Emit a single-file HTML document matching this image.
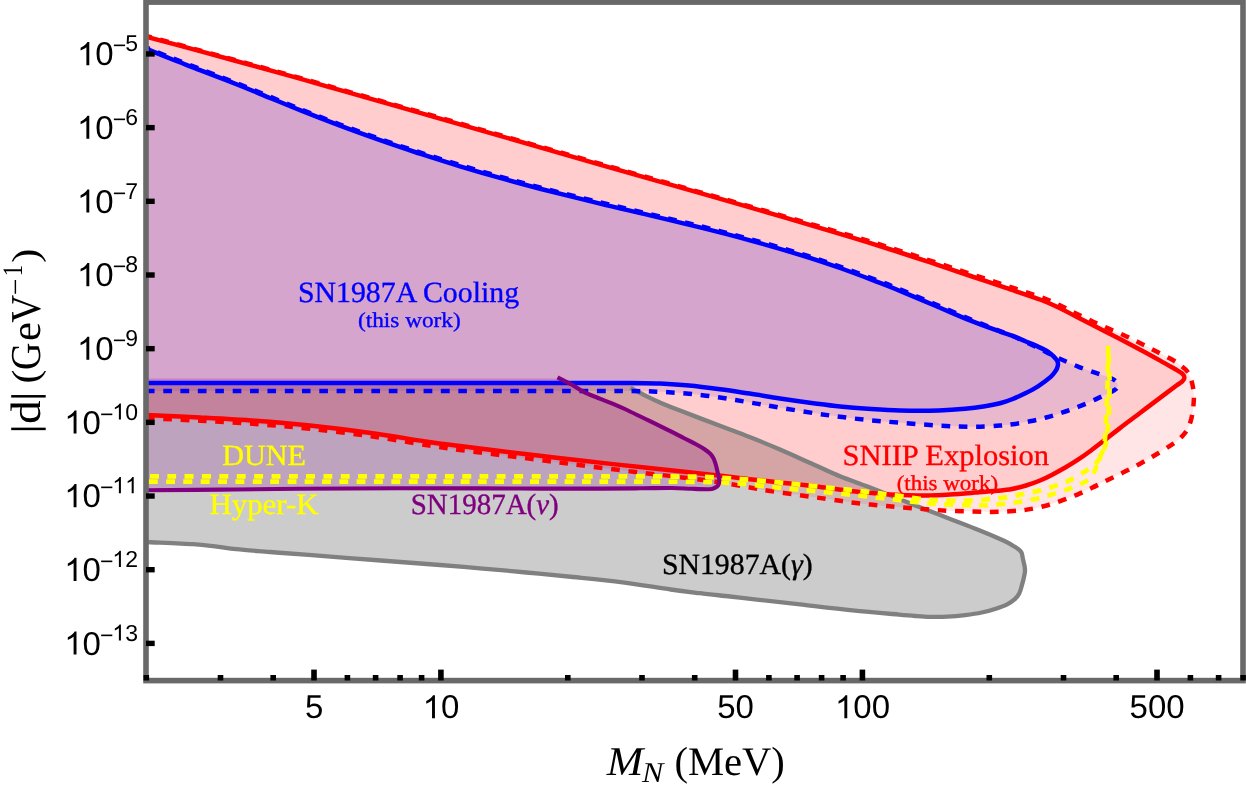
<!DOCTYPE html><html><head><meta charset="utf-8"><title>plot</title><style>html,body{margin:0;padding:0;background:#fff}body{width:1246px;height:789px;overflow:hidden}svg{display:block}text{white-space:pre}.ss{font-family:"Liberation Sans",sans-serif}.sf{font-family:"Liberation Serif",serif}</style></head><body>
<svg width="1246" height="789" viewBox="0 0 1246 789" style="will-change:transform" text-rendering="geometricPrecision">
<rect width="1246" height="789" fill="#fff"/>
<defs><clipPath id="cp"><rect x="146" y="2.5" width="1097" height="678"/></clipPath></defs>
<g clip-path="url(#cp)">
<path d="M146.0 383.0 C225.0 383.0 539.3 382.2 620.0 383.0 C700.7 383.8 625.7 385.2 630.4 387.6 C635.1 390.0 643.5 394.7 648.4 397.2 C653.3 399.7 654.7 400.3 660.0 402.5 C665.3 404.7 670.0 406.7 680.0 410.6 C690.0 414.5 708.4 421.4 720.0 425.8 C731.6 430.2 739.6 433.1 749.6 437.0 C759.6 440.9 768.8 444.7 780.0 449.5 C791.2 454.3 807.0 461.6 817.0 466.0 C827.0 470.4 831.6 472.8 840.0 476.2 C848.4 479.6 857.6 482.8 867.6 486.6 C877.6 490.5 890.4 495.5 900.0 499.3 C909.6 503.1 916.2 505.8 925.0 509.2 C933.8 512.6 943.9 516.5 952.7 519.9 C961.5 523.3 969.5 526.3 978.0 529.7 C986.5 533.1 997.5 537.8 1003.4 540.5 C1009.3 543.2 1010.9 544.5 1013.5 546.0 C1016.1 547.5 1017.8 548.6 1019.2 549.8 C1020.6 551.0 1021.1 551.4 1021.7 553.0 C1022.3 554.6 1022.5 557.0 1023.0 559.3 C1023.5 561.6 1024.4 564.8 1024.7 566.9 C1025.0 569.0 1025.1 570.1 1024.9 572.0 C1024.7 573.9 1024.2 576.0 1023.7 578.3 C1023.2 580.6 1022.5 583.4 1021.7 585.9 C1021.0 588.4 1020.4 591.3 1019.2 593.5 C1018.1 595.7 1016.8 597.4 1014.8 599.2 C1012.8 601.0 1010.4 602.7 1007.2 604.3 C1004.0 605.9 1000.0 607.3 995.8 608.7 C991.6 610.1 986.9 611.4 981.8 612.5 C976.7 613.6 971.0 614.4 965.3 615.1 C959.6 615.8 953.5 616.4 947.6 616.7 C941.7 617.0 935.4 617.0 930.0 616.9 C924.6 616.8 920.2 616.4 915.0 616.0 C909.8 615.6 909.4 615.5 899.0 614.6 C888.6 613.7 868.9 612.1 852.4 610.4 C835.9 608.7 815.6 606.2 800.0 604.4 C784.4 602.6 770.7 601.1 759.0 599.8 C747.3 598.5 739.8 597.6 730.0 596.5 C720.2 595.4 709.9 594.4 700.0 593.2 C690.1 592.0 683.7 591.3 670.8 589.5 C657.9 587.7 638.9 584.4 622.6 582.3 C606.3 580.2 589.0 578.6 573.0 577.0 C557.0 575.4 541.8 574.0 526.3 572.5 C510.8 571.0 494.4 569.5 480.0 568.3 C465.6 567.0 456.5 566.3 440.0 565.0 C423.5 563.7 402.7 562.2 380.8 560.5 C358.9 558.8 327.1 556.3 308.6 554.9 C290.1 553.5 282.1 553.0 270.0 552.0 C257.9 551.0 245.5 550.2 236.3 549.2 C227.1 548.2 222.2 547.1 215.0 546.3 C207.8 545.5 204.5 544.9 193.0 544.2 C181.5 543.5 153.8 542.4 146.0 542.0Z" fill="#808080" fill-opacity="0.4"/>
<path d="M146.0 48.7 C150.0 50.3 161.0 54.9 170.0 58.5 C179.0 62.1 190.0 66.2 200.0 70.1 C210.0 74.0 220.0 77.8 230.0 81.7 C240.0 85.7 248.3 89.0 260.0 93.8 C271.7 98.5 286.7 104.9 300.0 110.2 C313.3 115.5 326.7 120.7 340.0 125.7 C353.3 130.7 366.7 135.5 380.0 140.2 C393.3 144.9 406.7 149.3 420.0 153.7 C433.3 158.0 446.7 162.3 460.0 166.3 C473.3 170.3 486.7 174.2 500.0 177.9 C513.3 181.6 523.3 184.4 540.0 188.7 C556.7 193.0 581.7 199.1 600.0 203.6 C618.3 208.1 633.3 211.4 650.0 215.4 C666.7 219.4 683.5 223.3 700.0 227.4 C716.5 231.5 732.3 235.5 749.0 240.1 C765.7 244.7 784.8 250.2 800.0 254.8 C815.2 259.4 826.7 263.3 840.0 268.0 C853.3 272.7 870.0 279.1 880.0 282.9 C890.0 286.7 890.8 287.1 900.0 290.9 C909.2 294.7 923.5 300.7 935.3 305.7 C947.1 310.7 959.8 316.4 970.6 320.7 C981.4 325.0 993.0 329.1 1000.0 331.6 C1007.0 334.1 1008.5 334.3 1012.7 335.9 C1016.9 337.5 1021.1 339.4 1025.3 341.2 C1029.5 343.0 1034.2 344.8 1038.0 346.6 C1041.8 348.4 1045.5 350.0 1048.2 351.8 C1051.0 353.6 1053.0 355.8 1054.5 357.3 C1056.0 358.8 1056.7 359.8 1057.3 361.0 C1057.9 362.2 1058.0 363.3 1058.0 364.4 C1058.0 365.5 1057.6 366.7 1057.2 367.8 C1056.8 368.9 1056.6 369.5 1055.5 371.0 C1054.4 372.5 1053.6 374.3 1050.7 376.9 C1047.8 379.4 1042.2 383.6 1038.0 386.3 C1033.8 389.0 1029.5 391.2 1025.3 393.3 C1021.1 395.4 1016.9 397.3 1012.7 399.0 C1008.5 400.7 1004.6 402.1 1000.0 403.3 C995.4 404.5 990.8 405.4 985.0 406.3 C979.2 407.2 972.7 408.1 965.0 408.8 C957.3 409.5 949.6 410.1 938.8 410.4 C928.0 410.7 911.9 410.7 900.0 410.4 C888.1 410.1 877.6 409.4 867.6 408.8 C857.6 408.2 848.4 407.4 840.0 406.5 C831.6 405.6 827.0 405.0 817.0 403.7 C807.0 402.4 791.2 400.2 780.0 398.5 C768.8 396.8 759.6 395.1 749.6 393.6 C739.6 392.1 730.1 390.6 720.0 389.3 C709.9 388.0 699.0 386.6 689.0 385.6 C679.0 384.7 669.5 384.1 660.0 383.6 C650.5 383.2 648.4 383.0 631.7 382.9 C615.0 382.8 585.3 383.0 560.0 383.0 C534.7 383.0 523.3 383.0 480.0 383.0 C436.7 383.0 355.7 383.0 300.0 383.0 C244.3 383.0 171.7 383.0 146.0 383.0Z" fill="#0000ff" fill-opacity="0.1"/>
<path d="M146.0 47.5 C150.0 49.1 161.0 53.7 170.0 57.3 C179.0 60.9 190.0 65.0 200.0 68.9 C210.0 72.8 220.0 76.5 230.0 80.5 C240.0 84.5 248.3 87.8 260.0 92.6 C271.7 97.3 286.7 103.7 300.0 109.0 C313.3 114.3 326.7 119.5 340.0 124.5 C353.3 129.5 366.7 134.3 380.0 139.0 C393.3 143.7 406.7 148.2 420.0 152.5 C433.3 156.8 446.7 161.0 460.0 165.0 C473.3 169.0 486.7 172.9 500.0 176.7 C513.3 180.4 523.3 183.2 540.0 187.5 C556.7 191.8 581.7 197.9 600.0 202.3 C618.3 206.7 633.3 210.1 650.0 214.1 C666.7 218.1 683.5 222.0 700.0 226.1 C716.5 230.2 732.3 234.2 749.0 238.8 C765.7 243.4 784.8 248.8 800.0 253.5 C815.2 258.1 826.7 262.1 840.0 266.7 C853.3 271.3 870.0 277.6 880.0 281.4 C890.0 285.2 890.8 285.6 900.0 289.4 C909.2 293.2 923.5 299.3 935.3 304.3 C947.1 309.3 959.8 314.9 970.6 319.4 C981.4 323.9 993.0 328.3 1000.0 331.1 C1007.0 333.9 1008.5 334.2 1012.7 336.0 C1016.9 337.8 1021.1 339.8 1025.3 341.8 C1029.5 343.8 1033.9 345.8 1038.0 347.8 C1042.1 349.8 1046.0 352.0 1050.0 354.0 C1054.0 356.0 1057.3 357.7 1062.1 359.8 C1066.9 361.9 1073.1 364.7 1078.6 366.8 C1084.1 368.9 1090.2 370.9 1095.1 372.6 C1100.0 374.3 1104.9 375.8 1108.0 377.0 C1111.1 378.2 1112.3 378.7 1113.8 379.6 C1115.3 380.5 1116.4 381.6 1117.0 382.5 C1117.6 383.4 1117.6 384.3 1117.6 385.2 C1117.6 386.1 1117.4 387.1 1116.8 388.0 C1116.2 388.9 1115.3 389.6 1113.8 390.5 C1112.3 391.4 1111.1 392.0 1108.0 393.5 C1104.9 395.0 1100.0 397.4 1095.1 399.6 C1090.2 401.8 1084.0 404.6 1078.6 406.7 C1073.2 408.8 1068.1 410.6 1062.7 412.4 C1057.3 414.2 1051.8 416.0 1046.3 417.5 C1040.8 419.0 1035.4 420.2 1029.8 421.3 C1024.2 422.4 1017.7 423.6 1012.7 424.3 C1007.7 425.0 1004.6 425.2 1000.0 425.6 C995.4 426.0 990.3 426.3 985.0 426.5 C979.7 426.7 975.8 426.8 968.0 426.7 C960.2 426.6 949.3 426.3 938.0 425.6 C926.7 424.9 911.7 423.6 900.0 422.7 C888.3 421.8 877.6 421.0 867.6 420.0 C857.6 419.0 848.4 417.9 840.0 416.8 C831.6 415.7 827.0 415.1 817.0 413.6 C807.0 412.1 791.2 409.6 780.0 407.7 C768.8 405.8 759.6 404.1 749.6 402.4 C739.6 400.7 730.1 398.9 720.0 397.5 C709.9 396.1 699.0 394.8 689.0 393.8 C679.0 392.9 669.5 392.2 660.0 391.8 C650.5 391.4 648.4 391.2 631.7 391.1 C615.0 391.0 585.3 391.0 560.0 391.0 C534.7 391.0 523.3 391.0 480.0 391.0 C436.7 391.0 355.7 391.0 300.0 391.0 C244.3 391.0 171.7 391.0 146.0 391.0Z" fill="#0000ff" fill-opacity="0.1"/>
<path d="M146.0 36.6 C155.0 39.0 182.7 46.4 200.0 51.1 C217.3 55.8 233.3 60.2 250.0 64.8 C266.7 69.4 283.3 74.0 300.0 78.7 C316.7 83.4 333.3 88.2 350.0 92.9 C366.7 97.6 381.7 101.9 400.0 107.1 C418.3 112.3 436.7 117.6 460.0 124.3 C483.3 131.0 508.3 138.3 540.0 147.4 C571.7 156.5 615.2 169.0 650.0 178.9 C684.8 188.8 715.7 197.4 749.0 207.1 C782.3 216.8 824.8 229.3 850.0 236.9 C875.2 244.5 885.8 248.0 900.0 252.5 C914.2 257.0 923.5 260.2 935.3 264.1 C947.1 268.0 958.8 272.0 970.6 276.0 C982.4 280.0 994.1 283.9 1005.9 287.9 C1017.7 291.9 1032.2 296.6 1041.2 300.0 C1050.2 303.4 1054.1 305.5 1060.0 308.3 C1065.9 311.1 1069.1 313.0 1076.5 316.8 C1083.9 320.6 1097.0 327.3 1104.2 331.0 C1111.5 334.7 1114.0 336.0 1120.0 339.1 C1126.0 342.2 1133.5 346.2 1140.3 349.8 C1147.1 353.4 1154.5 357.5 1160.6 360.9 C1166.7 364.3 1174.1 368.6 1176.8 370.1C1177.7 370.7 1181.0 372.3 1182.3 373.6 C1183.6 374.9 1184.4 376.4 1184.4 377.7 C1184.4 379.0 1183.6 380.1 1182.3 381.4 C1181.0 382.7 1177.7 384.6 1176.8 385.3C1174.0 387.4 1166.1 393.3 1160.0 397.9 C1153.9 402.5 1147.0 407.7 1140.3 412.7 C1133.6 417.7 1126.2 423.4 1120.0 428.1 C1113.8 432.8 1108.3 437.2 1103.4 441.0 C1098.5 444.8 1094.9 447.6 1090.7 450.7 C1086.5 453.8 1082.2 456.9 1078.0 459.7 C1073.8 462.5 1069.5 465.1 1065.3 467.5 C1061.1 469.9 1056.9 472.2 1052.7 474.4 C1048.5 476.6 1044.5 478.6 1040.0 480.5 C1035.5 482.4 1030.7 484.1 1026.0 485.5 C1021.3 486.9 1016.8 488.1 1012.0 489.0 C1007.2 489.9 1003.7 490.2 997.5 490.8 C991.3 491.4 982.9 492.0 975.0 492.6 C967.1 493.2 958.3 493.9 950.0 494.4 C941.7 494.9 933.3 495.3 925.0 495.4 C916.7 495.5 907.5 495.4 900.0 495.1 C892.5 494.8 888.3 494.5 880.0 493.8 C871.7 493.1 860.5 492.2 850.0 491.0 C839.5 489.8 828.7 487.9 817.0 486.5 C805.3 485.1 791.2 483.7 780.0 482.5 C768.8 481.3 760.1 480.4 749.6 479.2 C739.1 478.0 728.2 476.6 717.0 475.3 C705.8 474.0 695.0 472.9 682.2 471.5 C669.4 470.1 656.9 468.8 640.0 467.0 C623.1 465.2 597.7 462.5 581.0 460.6 C564.3 458.7 553.5 457.4 540.0 455.8 C526.5 454.2 513.3 452.6 500.0 451.0 C486.7 449.4 471.8 447.5 460.0 446.0 C448.2 444.5 443.8 444.2 429.0 442.0 C414.2 439.8 390.8 435.8 371.0 433.0 C351.2 430.2 329.2 427.5 310.0 425.5 C290.8 423.5 273.9 422.1 255.6 420.8 C237.3 419.5 218.3 418.5 200.0 417.5 C181.7 416.5 155.0 415.4 146.0 415.0Z" fill="#ff0000" fill-opacity="0.1"/>
<path d="M146.0 36.0 C155.0 38.4 182.7 45.8 200.0 50.5 C217.3 55.2 233.3 59.5 250.0 64.1 C266.7 68.7 283.3 73.3 300.0 78.0 C316.7 82.7 333.3 87.5 350.0 92.2 C366.7 96.9 381.7 101.2 400.0 106.4 C418.3 111.6 436.7 116.8 460.0 123.5 C483.3 130.2 508.3 137.5 540.0 146.6 C571.7 155.7 615.2 168.1 650.0 178.0 C684.8 187.9 715.7 196.6 749.0 206.2 C782.3 215.8 824.8 228.1 850.0 235.5 C875.2 242.9 885.8 246.4 900.0 250.9 C914.2 255.4 923.5 258.5 935.3 262.3 C947.1 266.1 958.8 270.0 970.6 273.9 C982.4 277.8 994.1 281.6 1005.9 285.5 C1017.7 289.4 1032.2 294.0 1041.2 297.3 C1050.2 300.6 1054.1 302.6 1060.0 305.4 C1065.9 308.1 1069.1 310.2 1076.5 313.8 C1083.9 317.4 1095.8 322.9 1104.2 326.7 C1112.6 330.5 1120.7 333.7 1127.1 336.7 C1133.5 339.7 1137.6 341.9 1142.8 344.5 C1148.0 347.1 1152.9 349.6 1158.0 352.3 C1163.1 355.0 1169.6 358.1 1173.6 360.5 C1177.6 362.9 1179.7 364.7 1182.0 366.5 C1184.3 368.3 1185.7 369.3 1187.2 371.3 C1188.7 373.3 1189.8 375.8 1190.8 378.5 C1191.8 381.2 1192.5 384.4 1193.0 387.3 C1193.5 390.2 1193.8 393.1 1193.9 396.0 C1194.0 398.9 1193.7 401.8 1193.5 404.6 C1193.3 407.4 1193.0 410.1 1192.5 413.0 C1192.0 415.9 1191.4 419.1 1190.5 421.8 C1189.6 424.6 1188.6 427.1 1187.3 429.5 C1186.0 431.9 1184.2 434.0 1182.4 436.0 C1180.6 438.0 1178.5 439.8 1176.2 441.6 C1173.9 443.4 1172.4 444.2 1168.7 446.6 C1165.0 449.0 1159.0 452.8 1154.0 455.8 C1149.0 458.8 1144.0 461.6 1138.8 464.4 C1133.6 467.2 1128.3 470.0 1123.0 472.6 C1117.7 475.2 1112.4 477.7 1107.2 480.2 C1102.0 482.7 1097.1 485.4 1092.0 487.8 C1086.9 490.2 1082.1 492.6 1076.8 494.8 C1071.5 497.0 1065.8 499.2 1060.3 501.1 C1054.8 503.0 1049.4 504.8 1043.8 506.2 C1038.2 507.6 1032.5 508.8 1026.9 509.6 C1021.3 510.5 1016.1 510.9 1010.0 511.3 C1003.9 511.7 999.4 511.9 990.0 511.9 C980.6 511.8 964.2 511.4 953.4 511.0 C942.6 510.6 933.9 509.8 925.0 509.2 C916.1 508.6 907.5 507.8 900.0 507.2 C892.5 506.6 886.7 506.0 880.0 505.4 C873.3 504.8 866.7 504.3 860.0 503.5 C853.3 502.7 847.2 501.8 840.0 500.8 C832.8 499.8 823.7 498.5 817.0 497.6 C810.3 496.7 808.1 496.4 800.0 495.2 C791.9 494.0 776.8 492.0 768.4 490.7 C760.0 489.4 758.2 489.0 749.6 487.5 C741.0 486.0 728.2 483.6 717.0 481.9 C705.8 480.2 695.0 479.0 682.2 477.4 C669.4 475.8 656.9 474.5 640.0 472.5 C623.1 470.5 597.7 467.4 581.0 465.3 C564.3 463.2 553.5 461.7 540.0 460.0 C526.5 458.3 513.3 456.7 500.0 455.0 C486.7 453.3 471.8 451.6 460.0 450.0 C448.2 448.4 443.8 447.8 429.0 445.5 C414.2 443.2 390.8 439.1 371.0 436.3 C351.2 433.5 329.2 430.9 310.0 428.8 C290.8 426.8 273.9 425.4 255.6 424.0 C237.3 422.6 218.3 421.7 200.0 420.7 C181.7 419.7 155.0 418.6 146.0 418.2Z" fill="#ff0000" fill-opacity="0.1"/>
<path d="M146 378.4L557.5 378.4L557.5 377.4 C559.8 378.6 566.9 382.1 571.4 384.5 C575.9 386.9 579.9 389.9 584.2 392.1 C588.5 394.3 592.7 395.8 597.0 397.5 C601.3 399.2 604.7 400.4 609.9 402.6 C615.1 404.8 621.6 407.5 628.0 410.5 C634.4 413.5 641.8 417.2 648.4 420.4 C655.0 423.6 661.8 426.9 667.7 429.8 C673.6 432.7 679.0 435.6 683.7 438.0 C688.4 440.4 692.6 442.4 696.0 444.2 C699.4 446.0 701.9 447.4 704.2 449.0 C706.5 450.6 708.5 452.1 710.0 453.5 C711.5 454.9 712.3 456.1 713.2 457.7 C714.1 459.3 714.7 461.0 715.3 463.0 C715.9 465.0 716.5 467.3 717.0 469.5 C717.5 471.7 718.1 474.1 718.5 476.0 C718.9 477.9 719.4 479.4 719.3 481.0 C719.2 482.6 718.8 484.3 718.0 485.5 C717.2 486.7 716.0 487.4 714.5 488.0 C713.0 488.6 712.9 489.1 709.0 489.2 C705.1 489.3 697.5 489.0 691.4 488.8 C685.2 488.6 680.7 488.1 672.1 488.0 C663.5 487.9 652.0 488.2 640.0 488.3 C628.0 488.4 616.7 488.6 600.0 488.6 C583.3 488.7 560.0 488.6 540.0 488.6 C520.0 488.6 503.3 488.4 480.0 488.4 C456.7 488.3 430.0 488.2 400.0 488.3 C370.0 488.4 330.0 488.6 300.0 488.8 C270.0 489.0 245.7 489.4 220.0 489.6 C194.3 489.9 158.3 490.2 146.0 490.3 Z" fill="#800080" fill-opacity="0.2"/>
</g>
<text transform="translate(297.90,302.30) scale(1.0176,1.0000)" font-size="29.30" fill="#0000ff" stroke="#0000ff" stroke-width="0.35" class="sf">SN1987A Cooling</text>
<text transform="translate(358.00,326.80) scale(1.0974,1.0000)" font-size="21.20" fill="#0000ff" stroke="#0000ff" stroke-width="0.35" class="sf">(this work)</text>
<text transform="translate(842.50,464.80) scale(1.0413,1.0000)" font-size="29.30" fill="#ff0000" stroke="#ff0000" stroke-width="0.35" class="sf">SNIIP Explosion</text>
<text transform="translate(896.70,489.50) scale(1.0838,1.0000)" font-size="21.20" fill="#ff0000" stroke="#ff0000" stroke-width="0.35" class="sf">(this work)</text>
<text transform="translate(222.20,465.30) scale(1.0296,1.0000)" font-size="29.30" fill="#ffff00" stroke="#ffff00" stroke-width="0.35" class="sf">DUNE</text>
<text transform="translate(209.40,513.50) scale(1.0545,1.0000)" font-size="29.30" fill="#ffff00" stroke="#ffff00" stroke-width="0.35" class="sf">Hyper-K</text>
<text transform="translate(410.70,513.50) scale(0.9884,1.0000)" font-size="29.30" fill="#800080" stroke="#800080" stroke-width="0.35" class="sf">SN1987A(<tspan font-style="italic">ν</tspan>)</text>
<text transform="translate(661.90,574.10) scale(1.0167,1.0000)" font-size="29.30" fill="#000" stroke="#000" stroke-width="0.35" class="sf">SN1987A(<tspan font-style="italic">γ</tspan>)</text>
<g clip-path="url(#cp)" fill="none" stroke-linejoin="round">
<path d="M630.4 387.6 C633.4 389.2 643.5 394.7 648.4 397.2 C653.3 399.7 654.7 400.3 660.0 402.5 C665.3 404.7 670.0 406.7 680.0 410.6 C690.0 414.5 708.4 421.4 720.0 425.8 C731.6 430.2 739.6 433.1 749.6 437.0 C759.6 440.9 768.8 444.7 780.0 449.5 C791.2 454.3 807.0 461.6 817.0 466.0 C827.0 470.4 831.6 472.8 840.0 476.2 C848.4 479.6 857.6 482.8 867.6 486.6 C877.6 490.5 890.4 495.5 900.0 499.3 C909.6 503.1 916.2 505.8 925.0 509.2 C933.8 512.6 943.9 516.5 952.7 519.9 C961.5 523.3 969.5 526.3 978.0 529.7 C986.5 533.1 997.5 537.8 1003.4 540.5 C1009.3 543.2 1010.9 544.5 1013.5 546.0 C1016.1 547.5 1017.8 548.6 1019.2 549.8 C1020.6 551.0 1021.1 551.4 1021.7 553.0 C1022.3 554.6 1022.5 557.0 1023.0 559.3 C1023.5 561.6 1024.4 564.8 1024.7 566.9 C1025.0 569.0 1025.1 570.1 1024.9 572.0 C1024.7 573.9 1024.2 576.0 1023.7 578.3 C1023.2 580.6 1022.5 583.4 1021.7 585.9 C1021.0 588.4 1020.4 591.3 1019.2 593.5 C1018.1 595.7 1016.8 597.4 1014.8 599.2 C1012.8 601.0 1010.4 602.7 1007.2 604.3 C1004.0 605.9 1000.0 607.3 995.8 608.7 C991.6 610.1 986.9 611.4 981.8 612.5 C976.7 613.6 971.0 614.4 965.3 615.1 C959.6 615.8 953.5 616.4 947.6 616.7 C941.7 617.0 935.4 617.0 930.0 616.9 C924.6 616.8 920.2 616.4 915.0 616.0 C909.8 615.6 909.4 615.5 899.0 614.6 C888.6 613.7 868.9 612.1 852.4 610.4 C835.9 608.7 815.6 606.2 800.0 604.4 C784.4 602.6 770.7 601.1 759.0 599.8 C747.3 598.5 739.8 597.6 730.0 596.5 C720.2 595.4 709.9 594.4 700.0 593.2 C690.1 592.0 683.7 591.3 670.8 589.5 C657.9 587.7 638.9 584.4 622.6 582.3 C606.3 580.2 589.0 578.6 573.0 577.0 C557.0 575.4 541.8 574.0 526.3 572.5 C510.8 571.0 494.4 569.5 480.0 568.3 C465.6 567.0 456.5 566.3 440.0 565.0 C423.5 563.7 402.7 562.2 380.8 560.5 C358.9 558.8 327.1 556.3 308.6 554.9 C290.1 553.5 282.1 553.0 270.0 552.0 C257.9 551.0 245.5 550.2 236.3 549.2 C227.1 548.2 222.2 547.1 215.0 546.3 C207.8 545.5 204.5 544.9 193.0 544.2 C181.5 543.5 153.8 542.4 146.0 542.0" stroke="#808080" stroke-width="4.3"/>
<path d="M146.0 48.7 C150.0 50.3 161.0 54.9 170.0 58.5 C179.0 62.1 190.0 66.2 200.0 70.1 C210.0 74.0 220.0 77.8 230.0 81.7 C240.0 85.7 248.3 89.0 260.0 93.8 C271.7 98.5 286.7 104.9 300.0 110.2 C313.3 115.5 326.7 120.7 340.0 125.7 C353.3 130.7 366.7 135.5 380.0 140.2 C393.3 144.9 406.7 149.3 420.0 153.7 C433.3 158.0 446.7 162.3 460.0 166.3 C473.3 170.3 486.7 174.2 500.0 177.9 C513.3 181.6 523.3 184.4 540.0 188.7 C556.7 193.0 581.7 199.1 600.0 203.6 C618.3 208.1 633.3 211.4 650.0 215.4 C666.7 219.4 683.5 223.3 700.0 227.4 C716.5 231.5 732.3 235.5 749.0 240.1 C765.7 244.7 784.8 250.2 800.0 254.8 C815.2 259.4 826.7 263.3 840.0 268.0 C853.3 272.7 870.0 279.1 880.0 282.9 C890.0 286.7 890.8 287.1 900.0 290.9 C909.2 294.7 923.5 300.7 935.3 305.7 C947.1 310.7 959.8 316.4 970.6 320.7 C981.4 325.0 993.0 329.1 1000.0 331.6 C1007.0 334.1 1008.5 334.3 1012.7 335.9 C1016.9 337.5 1021.1 339.4 1025.3 341.2 C1029.5 343.0 1034.2 344.8 1038.0 346.6 C1041.8 348.4 1045.5 350.0 1048.2 351.8 C1051.0 353.6 1053.0 355.8 1054.5 357.3 C1056.0 358.8 1056.7 359.8 1057.3 361.0 C1057.9 362.2 1058.0 363.3 1058.0 364.4 C1058.0 365.5 1057.6 366.7 1057.2 367.8 C1056.8 368.9 1056.6 369.5 1055.5 371.0 C1054.4 372.5 1053.6 374.3 1050.7 376.9 C1047.8 379.4 1042.2 383.6 1038.0 386.3 C1033.8 389.0 1029.5 391.2 1025.3 393.3 C1021.1 395.4 1016.9 397.3 1012.7 399.0 C1008.5 400.7 1004.6 402.1 1000.0 403.3 C995.4 404.5 990.8 405.4 985.0 406.3 C979.2 407.2 972.7 408.1 965.0 408.8 C957.3 409.5 949.6 410.1 938.8 410.4 C928.0 410.7 911.9 410.7 900.0 410.4 C888.1 410.1 877.6 409.4 867.6 408.8 C857.6 408.2 848.4 407.4 840.0 406.5 C831.6 405.6 827.0 405.0 817.0 403.7 C807.0 402.4 791.2 400.2 780.0 398.5 C768.8 396.8 759.6 395.1 749.6 393.6 C739.6 392.1 730.1 390.6 720.0 389.3 C709.9 388.0 699.0 386.6 689.0 385.6 C679.0 384.7 669.5 384.1 660.0 383.6 C650.5 383.2 648.4 383.0 631.7 382.9 C615.0 382.8 585.3 383.0 560.0 383.0 C534.7 383.0 523.3 383.0 480.0 383.0 C436.7 383.0 355.7 383.0 300.0 383.0 C244.3 383.0 171.7 383.0 146.0 383.0" stroke="#0000ff" stroke-width="4.5"/>
<path d="M146.0 391.0 C171.7 391.0 244.3 391.0 300.0 391.0 C355.7 391.0 436.7 391.0 480.0 391.0 C523.3 391.0 534.7 391.0 560.0 391.0 C585.3 391.0 615.0 391.0 631.7 391.1 C648.4 391.2 650.5 391.4 660.0 391.8 C669.5 392.2 679.0 392.9 689.0 393.8 C699.0 394.8 709.9 396.1 720.0 397.5 C730.1 398.9 739.6 400.7 749.6 402.4 C759.6 404.1 768.8 405.8 780.0 407.7 C791.2 409.6 807.0 412.1 817.0 413.6 C827.0 415.1 831.6 415.7 840.0 416.8 C848.4 417.9 857.6 419.0 867.6 420.0 C877.6 421.0 888.3 421.8 900.0 422.7 C911.7 423.6 926.7 424.9 938.0 425.6 C949.3 426.3 960.2 426.6 968.0 426.7 C975.8 426.8 979.7 426.7 985.0 426.5 C990.3 426.3 995.4 426.0 1000.0 425.6 C1004.6 425.2 1007.7 425.0 1012.7 424.3 C1017.7 423.6 1024.2 422.4 1029.8 421.3 C1035.4 420.2 1040.8 419.0 1046.3 417.5 C1051.8 416.0 1057.3 414.2 1062.7 412.4 C1068.1 410.6 1073.2 408.8 1078.6 406.7 C1084.0 404.6 1090.2 401.8 1095.1 399.6 C1100.0 397.4 1104.9 395.0 1108.0 393.5 C1111.1 392.0 1112.3 391.4 1113.8 390.5 C1115.3 389.6 1116.2 388.9 1116.8 388.0 C1117.4 387.1 1117.6 386.1 1117.6 385.2 C1117.6 384.3 1117.6 383.4 1117.0 382.5 C1116.4 381.6 1115.3 380.5 1113.8 379.6 C1112.3 378.7 1111.1 378.2 1108.0 377.0 C1104.9 375.8 1100.0 374.3 1095.1 372.6 C1090.2 370.9 1084.1 368.9 1078.6 366.8 C1073.1 364.7 1066.9 361.9 1062.1 359.8 C1057.3 357.7 1054.0 356.0 1050.0 354.0 C1046.0 352.0 1042.1 349.8 1038.0 347.8 C1033.9 345.8 1029.5 343.8 1025.3 341.8 C1021.1 339.8 1016.9 337.8 1012.7 336.0 C1008.5 334.2 1007.0 333.9 1000.0 331.1 C993.0 328.3 981.4 323.9 970.6 319.4 C959.8 314.9 947.1 309.3 935.3 304.3 C923.5 299.3 909.2 293.2 900.0 289.4 C890.8 285.6 890.0 285.2 880.0 281.4 C870.0 277.6 853.3 271.3 840.0 266.7 C826.7 262.1 815.2 258.1 800.0 253.5 C784.8 248.8 765.7 243.4 749.0 238.8 C732.3 234.2 716.5 230.2 700.0 226.1 C683.5 222.0 666.7 218.1 650.0 214.1 C633.3 210.1 618.3 206.7 600.0 202.3 C581.7 197.9 556.7 191.8 540.0 187.5 C523.3 183.2 513.3 180.4 500.0 176.7 C486.7 172.9 473.3 169.0 460.0 165.0 C446.7 161.0 433.3 156.8 420.0 152.5 C406.7 148.2 393.3 143.7 380.0 139.0 C366.7 134.3 353.3 129.5 340.0 124.5 C326.7 119.5 313.3 114.3 300.0 109.0 C286.7 103.7 271.7 97.3 260.0 92.6 C248.3 87.8 240.0 84.5 230.0 80.5 C220.0 76.5 210.0 72.8 200.0 68.9 C190.0 65.0 179.0 60.9 170.0 57.3 C161.0 53.7 150.0 49.1 146.0 47.5" stroke="#0000ff" stroke-width="4.5" stroke-dasharray="8.67 8.67"/>
<path d="M146.0 36.6 C155.0 39.0 182.7 46.4 200.0 51.1 C217.3 55.8 233.3 60.2 250.0 64.8 C266.7 69.4 283.3 74.0 300.0 78.7 C316.7 83.4 333.3 88.2 350.0 92.9 C366.7 97.6 381.7 101.9 400.0 107.1 C418.3 112.3 436.7 117.6 460.0 124.3 C483.3 131.0 508.3 138.3 540.0 147.4 C571.7 156.5 615.2 169.0 650.0 178.9 C684.8 188.8 715.7 197.4 749.0 207.1 C782.3 216.8 824.8 229.3 850.0 236.9 C875.2 244.5 885.8 248.0 900.0 252.5 C914.2 257.0 923.5 260.2 935.3 264.1 C947.1 268.0 958.8 272.0 970.6 276.0 C982.4 280.0 994.1 283.9 1005.9 287.9 C1017.7 291.9 1032.2 296.6 1041.2 300.0 C1050.2 303.4 1054.1 305.5 1060.0 308.3 C1065.9 311.1 1069.1 313.0 1076.5 316.8 C1083.9 320.6 1097.0 327.3 1104.2 331.0 C1111.5 334.7 1114.0 336.0 1120.0 339.1 C1126.0 342.2 1133.5 346.2 1140.3 349.8 C1147.1 353.4 1154.5 357.5 1160.6 360.9 C1166.7 364.3 1174.1 368.6 1176.8 370.1C1177.7 370.7 1181.0 372.3 1182.3 373.6 C1183.6 374.9 1184.4 376.4 1184.4 377.7 C1184.4 379.0 1183.6 380.1 1182.3 381.4 C1181.0 382.7 1177.7 384.6 1176.8 385.3C1174.0 387.4 1166.1 393.3 1160.0 397.9 C1153.9 402.5 1147.0 407.7 1140.3 412.7 C1133.6 417.7 1126.2 423.4 1120.0 428.1 C1113.8 432.8 1108.3 437.2 1103.4 441.0 C1098.5 444.8 1094.9 447.6 1090.7 450.7 C1086.5 453.8 1082.2 456.9 1078.0 459.7 C1073.8 462.5 1069.5 465.1 1065.3 467.5 C1061.1 469.9 1056.9 472.2 1052.7 474.4 C1048.5 476.6 1044.5 478.6 1040.0 480.5 C1035.5 482.4 1030.7 484.1 1026.0 485.5 C1021.3 486.9 1016.8 488.1 1012.0 489.0 C1007.2 489.9 1003.7 490.2 997.5 490.8 C991.3 491.4 982.9 492.0 975.0 492.6 C967.1 493.2 958.3 493.9 950.0 494.4 C941.7 494.9 933.3 495.3 925.0 495.4 C916.7 495.5 907.5 495.4 900.0 495.1 C892.5 494.8 888.3 494.5 880.0 493.8 C871.7 493.1 860.5 492.2 850.0 491.0 C839.5 489.8 828.7 487.9 817.0 486.5 C805.3 485.1 791.2 483.7 780.0 482.5 C768.8 481.3 760.1 480.4 749.6 479.2 C739.1 478.0 728.2 476.6 717.0 475.3 C705.8 474.0 695.0 472.9 682.2 471.5 C669.4 470.1 656.9 468.8 640.0 467.0 C623.1 465.2 597.7 462.5 581.0 460.6 C564.3 458.7 553.5 457.4 540.0 455.8 C526.5 454.2 513.3 452.6 500.0 451.0 C486.7 449.4 471.8 447.5 460.0 446.0 C448.2 444.5 443.8 444.2 429.0 442.0 C414.2 439.8 390.8 435.8 371.0 433.0 C351.2 430.2 329.2 427.5 310.0 425.5 C290.8 423.5 273.9 422.1 255.6 420.8 C237.3 419.5 218.3 418.5 200.0 417.5 C181.7 416.5 155.0 415.4 146.0 415.0" stroke="#ff0000" stroke-width="4.5"/>
<path d="M146.0 418.2 C155.0 418.6 181.7 419.7 200.0 420.7 C218.3 421.7 237.3 422.6 255.6 424.0 C273.9 425.4 290.8 426.8 310.0 428.8 C329.2 430.9 351.2 433.5 371.0 436.3 C390.8 439.1 414.2 443.2 429.0 445.5 C443.8 447.8 448.2 448.4 460.0 450.0 C471.8 451.6 486.7 453.3 500.0 455.0 C513.3 456.7 526.5 458.3 540.0 460.0 C553.5 461.7 564.3 463.2 581.0 465.3 C597.7 467.4 623.1 470.5 640.0 472.5 C656.9 474.5 669.4 475.8 682.2 477.4 C695.0 479.0 705.8 480.2 717.0 481.9 C728.2 483.6 741.0 486.0 749.6 487.5 C758.2 489.0 760.0 489.4 768.4 490.7 C776.8 492.0 791.9 494.0 800.0 495.2 C808.1 496.4 810.3 496.7 817.0 497.6 C823.7 498.5 832.8 499.8 840.0 500.8 C847.2 501.8 853.3 502.7 860.0 503.5 C866.7 504.3 873.3 504.8 880.0 505.4 C886.7 506.0 892.5 506.6 900.0 507.2 C907.5 507.8 916.1 508.6 925.0 509.2 C933.9 509.8 942.6 510.6 953.4 511.0 C964.2 511.4 980.6 511.8 990.0 511.9 C999.4 511.9 1003.9 511.7 1010.0 511.3 C1016.1 510.9 1021.3 510.5 1026.9 509.6 C1032.5 508.8 1038.2 507.6 1043.8 506.2 C1049.4 504.8 1054.8 503.0 1060.3 501.1 C1065.8 499.2 1071.5 497.0 1076.8 494.8 C1082.1 492.6 1086.9 490.2 1092.0 487.8 C1097.1 485.4 1102.0 482.7 1107.2 480.2 C1112.4 477.7 1117.7 475.2 1123.0 472.6 C1128.3 470.0 1133.6 467.2 1138.8 464.4 C1144.0 461.6 1149.0 458.8 1154.0 455.8 C1159.0 452.8 1165.0 449.0 1168.7 446.6 C1172.4 444.2 1173.9 443.4 1176.2 441.6 C1178.5 439.8 1180.6 438.0 1182.4 436.0 C1184.2 434.0 1186.0 431.9 1187.3 429.5 C1188.6 427.1 1189.6 424.6 1190.5 421.8 C1191.4 419.1 1192.0 415.9 1192.5 413.0 C1193.0 410.1 1193.3 407.4 1193.5 404.6 C1193.7 401.8 1194.0 398.9 1193.9 396.0 C1193.8 393.1 1193.5 390.2 1193.0 387.3 C1192.5 384.4 1191.8 381.2 1190.8 378.5 C1189.8 375.8 1188.7 373.3 1187.2 371.3 C1185.7 369.3 1184.3 368.3 1182.0 366.5 C1179.7 364.7 1177.6 362.9 1173.6 360.5 C1169.6 358.1 1163.1 355.0 1158.0 352.3 C1152.9 349.6 1148.0 347.1 1142.8 344.5 C1137.6 341.9 1133.5 339.7 1127.1 336.7 C1120.7 333.7 1112.6 330.5 1104.2 326.7 C1095.8 322.9 1083.9 317.4 1076.5 313.8 C1069.1 310.2 1065.9 308.1 1060.0 305.4 C1054.1 302.6 1050.2 300.6 1041.2 297.3 C1032.2 294.0 1017.7 289.4 1005.9 285.5 C994.1 281.6 982.4 277.8 970.6 273.9 C958.8 270.0 947.1 266.1 935.3 262.3 C923.5 258.5 914.2 255.4 900.0 250.9 C885.8 246.4 875.2 242.9 850.0 235.5 C824.8 228.1 782.3 215.8 749.0 206.2 C715.7 196.6 684.8 187.9 650.0 178.0 C615.2 168.1 571.7 155.7 540.0 146.6 C508.3 137.5 483.3 130.2 460.0 123.5 C436.7 116.8 418.3 111.6 400.0 106.4 C381.7 101.2 366.7 96.9 350.0 92.2 C333.3 87.5 316.7 82.7 300.0 78.0 C283.3 73.3 266.7 68.7 250.0 64.1 C233.3 59.5 217.3 55.2 200.0 50.5 C182.7 45.8 155.0 38.4 146.0 36.0" stroke="#ff0000" stroke-width="4.5" stroke-dasharray="8.67 8.67"/>
<path d="M146.0 476.4 C171.7 476.4 244.3 476.4 300.0 476.4 C355.7 476.4 423.3 476.4 480.0 476.4 C536.7 476.4 603.3 476.3 640.0 476.4 C676.7 476.5 686.7 476.6 700.0 476.8 C713.3 477.0 712.9 477.3 720.0 477.7 C727.1 478.1 734.4 478.6 742.7 479.2 C751.0 479.8 761.5 480.7 770.0 481.5 C778.5 482.3 786.2 483.2 794.0 484.0 C801.8 484.8 807.7 485.3 817.0 486.3 C826.3 487.3 839.5 488.8 850.0 490.0 C860.5 491.2 871.7 492.5 880.0 493.5 C888.3 494.5 893.3 495.1 900.0 496.0 C906.7 496.9 913.3 498.1 920.0 498.8 C926.7 499.6 932.7 500.2 940.0 500.5 C947.3 500.8 956.8 500.8 964.0 500.7 C971.2 500.6 976.9 500.2 983.0 499.8 C989.1 499.4 994.7 498.8 1000.5 498.0 C1006.3 497.2 1012.0 496.3 1017.8 495.2 C1023.5 494.1 1029.4 493.0 1035.0 491.6 C1040.6 490.2 1046.0 488.8 1051.4 487.1 C1056.8 485.4 1062.0 483.9 1067.2 481.5 C1072.4 479.1 1078.6 475.3 1082.5 473.0 C1086.4 470.7 1088.1 469.4 1090.5 467.6 C1092.9 465.8 1095.0 464.3 1097.0 462.0 C1099.0 459.7 1101.1 456.7 1102.5 454.0 C1103.9 451.3 1104.5 449.0 1105.3 446.0 C1106.0 443.0 1106.5 440.3 1107.0 436.0 C1107.5 431.7 1107.9 426.0 1108.3 420.0 C1108.7 414.0 1109.1 406.7 1109.3 400.0 C1109.5 393.3 1109.6 386.3 1109.5 380.0 C1109.4 373.7 1108.9 367.7 1108.7 362.0 C1108.5 356.3 1108.3 348.5 1108.2 345.8" stroke="#ffff00" stroke-width="4.8" stroke-dasharray="8.9 8.44" stroke-dashoffset="-4.1"/>
<path d="M146.0 481.6 C171.7 481.6 244.3 481.6 300.0 481.6 C355.7 481.6 423.3 481.6 480.0 481.6 C536.7 481.6 603.3 481.6 640.0 481.6 C676.7 481.7 686.7 481.8 700.0 481.9 C713.3 482.0 712.9 482.2 720.0 482.5 C727.1 482.8 734.4 483.2 742.7 483.9 C751.0 484.6 761.5 485.9 770.0 486.8 C778.5 487.7 786.2 488.4 794.0 489.2 C801.8 489.9 807.7 490.4 817.0 491.3 C826.3 492.2 839.5 493.5 850.0 494.6 C860.5 495.7 871.7 497.1 880.0 498.0 C888.3 498.9 893.3 499.5 900.0 500.3 C906.7 501.1 913.3 502.0 920.0 502.6 C926.7 503.2 932.7 503.8 940.0 504.2 C947.3 504.6 957.0 504.8 964.0 505.0 C971.0 505.2 975.9 505.3 981.7 505.2 C987.5 505.1 993.2 504.7 999.0 504.2 C1004.8 503.7 1010.5 503.1 1016.3 502.3 C1022.1 501.5 1028.1 500.4 1033.7 499.2 C1039.3 498.0 1044.6 496.6 1050.1 495.0 C1055.6 493.4 1062.4 491.0 1066.6 489.6 C1070.8 488.2 1072.3 487.7 1075.0 486.6 C1077.7 485.5 1080.3 484.4 1082.5 483.2 C1084.7 482.0 1086.5 481.1 1088.3 479.6 C1090.0 478.2 1091.8 476.4 1093.0 474.5 C1094.2 472.6 1095.1 470.1 1095.8 468.0 C1096.5 465.9 1096.0 464.3 1097.0 462.0 C1098.0 459.7 1100.3 456.7 1101.5 454.0 C1102.7 451.3 1103.4 449.0 1104.0 446.0 C1104.6 443.0 1104.9 440.3 1105.2 436.0 C1105.5 431.7 1105.7 426.0 1106.0 420.0 C1106.3 414.0 1106.7 406.7 1107.0 400.0 C1107.3 393.3 1107.4 386.3 1107.6 380.0 C1107.8 373.7 1107.8 367.7 1107.9 362.0 C1108.0 356.3 1108.2 348.5 1108.2 345.8" stroke="#ffff00" stroke-width="4.6" stroke-dasharray="8.889 8.429" stroke-dashoffset="-2.9"/>
<path d="M557.5 377.4 C559.8 378.6 566.9 382.1 571.4 384.5 C575.9 386.9 579.9 389.9 584.2 392.1 C588.5 394.3 592.7 395.8 597.0 397.5 C601.3 399.2 604.7 400.4 609.9 402.6 C615.1 404.8 621.6 407.5 628.0 410.5 C634.4 413.5 641.8 417.2 648.4 420.4 C655.0 423.6 661.8 426.9 667.7 429.8 C673.6 432.7 679.0 435.6 683.7 438.0 C688.4 440.4 692.6 442.4 696.0 444.2 C699.4 446.0 701.9 447.4 704.2 449.0 C706.5 450.6 708.5 452.1 710.0 453.5 C711.5 454.9 712.3 456.1 713.2 457.7 C714.1 459.3 714.7 461.0 715.3 463.0 C715.9 465.0 716.5 467.3 717.0 469.5 C717.5 471.7 718.1 474.1 718.5 476.0 C718.9 477.9 719.4 479.4 719.3 481.0 C719.2 482.6 718.8 484.3 718.0 485.5 C717.2 486.7 716.0 487.4 714.5 488.0 C713.0 488.6 712.9 489.1 709.0 489.2 C705.1 489.3 697.5 489.0 691.4 488.8 C685.2 488.6 680.7 488.1 672.1 488.0 C663.5 487.9 652.0 488.2 640.0 488.3 C628.0 488.4 616.7 488.6 600.0 488.6 C583.3 488.7 560.0 488.6 540.0 488.6 C520.0 488.6 503.3 488.4 480.0 488.4 C456.7 488.3 430.0 488.2 400.0 488.3 C370.0 488.4 330.0 488.6 300.0 488.8 C270.0 489.0 245.7 489.4 220.0 489.6 C194.3 489.9 158.3 490.2 146.0 490.3" stroke="#800080" stroke-width="4.1"/>
</g>
<rect x="146" y="2.1" width="1097" height="678.5" fill="none" stroke="#696969" stroke-width="5.6"/>
<g fill="#000"><rect x="143.5" y="675" width="5.6" height="5.5"/><rect x="217.7" y="675" width="5.6" height="5.5"/><rect x="270.4" y="675" width="5.6" height="5.5"/><rect x="311.2" y="669.6" width="5.6" height="10.9"/><rect x="344.6" y="675" width="5.6" height="5.5"/><rect x="372.8" y="675" width="5.6" height="5.5"/><rect x="397.3" y="675" width="5.6" height="5.5"/><rect x="418.8" y="675" width="5.6" height="5.5"/><rect x="438.1" y="669.6" width="5.6" height="10.9"/><rect x="565.0" y="675" width="5.6" height="5.5"/><rect x="639.2" y="675" width="5.6" height="5.5"/><rect x="691.9" y="675" width="5.6" height="5.5"/><rect x="732.7" y="669.6" width="5.6" height="10.9"/><rect x="766.1" y="675" width="5.6" height="5.5"/><rect x="794.3" y="675" width="5.6" height="5.5"/><rect x="818.8" y="675" width="5.6" height="5.5"/><rect x="840.3" y="675" width="5.6" height="5.5"/><rect x="859.6" y="669.6" width="5.6" height="10.9"/><rect x="986.5" y="675" width="5.6" height="5.5"/><rect x="1060.7" y="675" width="5.6" height="5.5"/><rect x="1113.4" y="675" width="5.6" height="5.5"/><rect x="1154.2" y="669.6" width="5.6" height="10.9"/><rect x="1187.6" y="675" width="5.6" height="5.5"/><rect x="1215.8" y="675" width="5.6" height="5.5"/><rect x="1240.3" y="675" width="5.6" height="5.5"/><rect x="146" y="640.69" width="8.7" height="5.4"/><rect x="146" y="567.01" width="8.7" height="5.4"/><rect x="146" y="493.33" width="8.7" height="5.4"/><rect x="146" y="419.65" width="8.7" height="5.4"/><rect x="146" y="345.97" width="8.7" height="5.4"/><rect x="146" y="272.29" width="8.7" height="5.4"/><rect x="146" y="198.61" width="8.7" height="5.4"/><rect x="146" y="124.93" width="8.7" height="5.4"/><rect x="146" y="51.25" width="8.7" height="5.4"/></g>
<g aria-label="5"><text x="304.94" y="718.30" class="ss" font-size="33.00" fill="#000">5</text></g>
<g aria-label="10"><path d="M763 0H583V1147Q518 1085 412.5 1023Q307 961 223 930V1104Q374 1175 487 1276Q600 1377 647 1472H763Z" fill="#000" transform="translate(422.65,718.30) scale(0.01611,-0.01571)"/><text x="441.00" y="718.30" class="ss" font-size="33.00" fill="#000">0</text></g>
<g aria-label="50"><text x="717.26" y="718.30" class="ss" font-size="33.00" fill="#000">50</text></g>
<g aria-label="100"><path d="M763 0H583V1147Q518 1085 412.5 1023Q307 961 223 930V1104Q374 1175 487 1276Q600 1377 647 1472H763Z" fill="#000" transform="translate(834.97,718.30) scale(0.01611,-0.01571)"/><text x="853.32" y="718.30" class="ss" font-size="33.00" fill="#000">00</text></g>
<g aria-label="500"><text x="1129.58" y="718.30" class="ss" font-size="33.00" fill="#000">500</text></g>
<g aria-label="10"><path d="M763 0H583V1147Q518 1085 412.5 1023Q307 961 223 930V1104Q374 1175 487 1276Q600 1377 647 1472H763Z" fill="#000" transform="translate(64.21,654.59) scale(0.01611,-0.01571)"/><text x="82.56" y="654.59" class="ss" font-size="33.00" fill="#000">0</text></g>
<g aria-label="−13"><text x="99.91" y="642.79" class="ss" font-size="23.00" fill="#000">−</text><path d="M763 0H583V1147Q518 1085 412.5 1023Q307 961 223 930V1104Q374 1175 487 1276Q600 1377 647 1472H763Z" fill="#000" transform="translate(112.34,640.59) scale(0.01123,-0.01095)"/><text x="125.13" y="640.59" class="ss" font-size="23.00" fill="#000">3</text></g>
<g aria-label="10"><path d="M763 0H583V1147Q518 1085 412.5 1023Q307 961 223 930V1104Q374 1175 487 1276Q600 1377 647 1472H763Z" fill="#000" transform="translate(64.21,580.91) scale(0.01611,-0.01571)"/><text x="82.56" y="580.91" class="ss" font-size="33.00" fill="#000">0</text></g>
<g aria-label="−12"><text x="99.91" y="569.11" class="ss" font-size="23.00" fill="#000">−</text><path d="M763 0H583V1147Q518 1085 412.5 1023Q307 961 223 930V1104Q374 1175 487 1276Q600 1377 647 1472H763Z" fill="#000" transform="translate(112.34,566.91) scale(0.01123,-0.01095)"/><text x="125.13" y="566.91" class="ss" font-size="23.00" fill="#000">2</text></g>
<g aria-label="10"><path d="M763 0H583V1147Q518 1085 412.5 1023Q307 961 223 930V1104Q374 1175 487 1276Q600 1377 647 1472H763Z" fill="#000" transform="translate(64.21,507.23) scale(0.01611,-0.01571)"/><text x="82.56" y="507.23" class="ss" font-size="33.00" fill="#000">0</text></g>
<g aria-label="−11"><text x="99.91" y="495.43" class="ss" font-size="23.00" fill="#000">−</text><path d="M763 0H583V1147Q518 1085 412.5 1023Q307 961 223 930V1104Q374 1175 487 1276Q600 1377 647 1472H763Z" fill="#000" transform="translate(112.34,493.23) scale(0.01123,-0.01095)"/><path d="M763 0H583V1147Q518 1085 412.5 1023Q307 961 223 930V1104Q374 1175 487 1276Q600 1377 647 1472H763Z" fill="#000" transform="translate(125.13,493.23) scale(0.01123,-0.01095)"/></g>
<g aria-label="10"><path d="M763 0H583V1147Q518 1085 412.5 1023Q307 961 223 930V1104Q374 1175 487 1276Q600 1377 647 1472H763Z" fill="#000" transform="translate(64.21,433.55) scale(0.01611,-0.01571)"/><text x="82.56" y="433.55" class="ss" font-size="33.00" fill="#000">0</text></g>
<g aria-label="−10"><text x="99.91" y="421.75" class="ss" font-size="23.00" fill="#000">−</text><path d="M763 0H583V1147Q518 1085 412.5 1023Q307 961 223 930V1104Q374 1175 487 1276Q600 1377 647 1472H763Z" fill="#000" transform="translate(112.34,419.55) scale(0.01123,-0.01095)"/><text x="125.13" y="419.55" class="ss" font-size="23.00" fill="#000">0</text></g>
<g aria-label="10"><path d="M763 0H583V1147Q518 1085 412.5 1023Q307 961 223 930V1104Q374 1175 487 1276Q600 1377 647 1472H763Z" fill="#000" transform="translate(77.00,359.87) scale(0.01611,-0.01571)"/><text x="95.35" y="359.87" class="ss" font-size="33.00" fill="#000">0</text></g>
<g aria-label="−9"><text x="112.70" y="348.07" class="ss" font-size="23.00" fill="#000">−</text><text x="125.13" y="345.87" class="ss" font-size="23.00" fill="#000">9</text></g>
<g aria-label="10"><path d="M763 0H583V1147Q518 1085 412.5 1023Q307 961 223 930V1104Q374 1175 487 1276Q600 1377 647 1472H763Z" fill="#000" transform="translate(77.00,286.19) scale(0.01611,-0.01571)"/><text x="95.35" y="286.19" class="ss" font-size="33.00" fill="#000">0</text></g>
<g aria-label="−8"><text x="112.70" y="274.39" class="ss" font-size="23.00" fill="#000">−</text><text x="125.13" y="272.19" class="ss" font-size="23.00" fill="#000">8</text></g>
<g aria-label="10"><path d="M763 0H583V1147Q518 1085 412.5 1023Q307 961 223 930V1104Q374 1175 487 1276Q600 1377 647 1472H763Z" fill="#000" transform="translate(77.00,212.51) scale(0.01611,-0.01571)"/><text x="95.35" y="212.51" class="ss" font-size="33.00" fill="#000">0</text></g>
<g aria-label="−7"><text x="112.70" y="200.71" class="ss" font-size="23.00" fill="#000">−</text><text x="125.13" y="198.51" class="ss" font-size="23.00" fill="#000">7</text></g>
<g aria-label="10"><path d="M763 0H583V1147Q518 1085 412.5 1023Q307 961 223 930V1104Q374 1175 487 1276Q600 1377 647 1472H763Z" fill="#000" transform="translate(77.00,138.83) scale(0.01611,-0.01571)"/><text x="95.35" y="138.83" class="ss" font-size="33.00" fill="#000">0</text></g>
<g aria-label="−6"><text x="112.70" y="127.03" class="ss" font-size="23.00" fill="#000">−</text><text x="125.13" y="124.83" class="ss" font-size="23.00" fill="#000">6</text></g>
<g aria-label="10"><path d="M763 0H583V1147Q518 1085 412.5 1023Q307 961 223 930V1104Q374 1175 487 1276Q600 1377 647 1472H763Z" fill="#000" transform="translate(77.00,65.15) scale(0.01611,-0.01571)"/><text x="95.35" y="65.15" class="ss" font-size="33.00" fill="#000">0</text></g>
<g aria-label="−5"><text x="112.70" y="53.35" class="ss" font-size="23.00" fill="#000">−</text><text x="125.13" y="51.15" class="ss" font-size="23.00" fill="#000">5</text></g>
<text transform="translate(606.80,774.70) scale(1.0684,1.0000)" font-size="41.00" fill="#000" class="sf" font-style="italic">M</text>
<text transform="translate(642.10,782.00) scale(1.1172,1.0000)" font-size="28.70" fill="#000" class="sf" font-style="italic">N</text>
<text transform="translate(674.40,774.70)" font-size="40.60" fill="#000" class="sf">(MeV)</text>
<text transform="translate(40.10,424.10) rotate(-90) scale(1.1106,1.0000)" font-size="42.60" fill="#000" class="sf">d</text>
<text transform="translate(38.40,383.40) rotate(-90) scale(0.9748,0.8930)" font-size="42.60" fill="#000" class="sf">(</text>
<text transform="translate(40.10,370.10) rotate(-90) scale(0.8933,1.0000)" font-size="42.60" fill="#000" class="sf">G</text>
<text transform="translate(40.10,341.00) rotate(-90)" font-size="42.60" fill="#000" class="sf">e</text>
<text transform="translate(40.10,322.70) rotate(-90) scale(0.9065,1.0000)" font-size="42.60" fill="#000" class="sf">V</text>
<text transform="translate(24.80,295.30) rotate(-90) scale(1.0223,1.0000)" font-size="29.00" fill="#000" class="sf">−</text>
<text transform="translate(22.20,276.20) rotate(-90) scale(0.8108,1.0000)" font-size="28.20" fill="#000" class="sf">1</text>
<text transform="translate(38.40,262.70) rotate(-90) scale(1.0000,0.8930)" font-size="42.60" fill="#000" class="sf">)</text>
<rect x="11.2" y="427.65" width="34.5" height="2.5" fill="#000"/><rect x="11.2" y="395.05" width="34.5" height="2.5" fill="#000"/>
</svg></body></html>
